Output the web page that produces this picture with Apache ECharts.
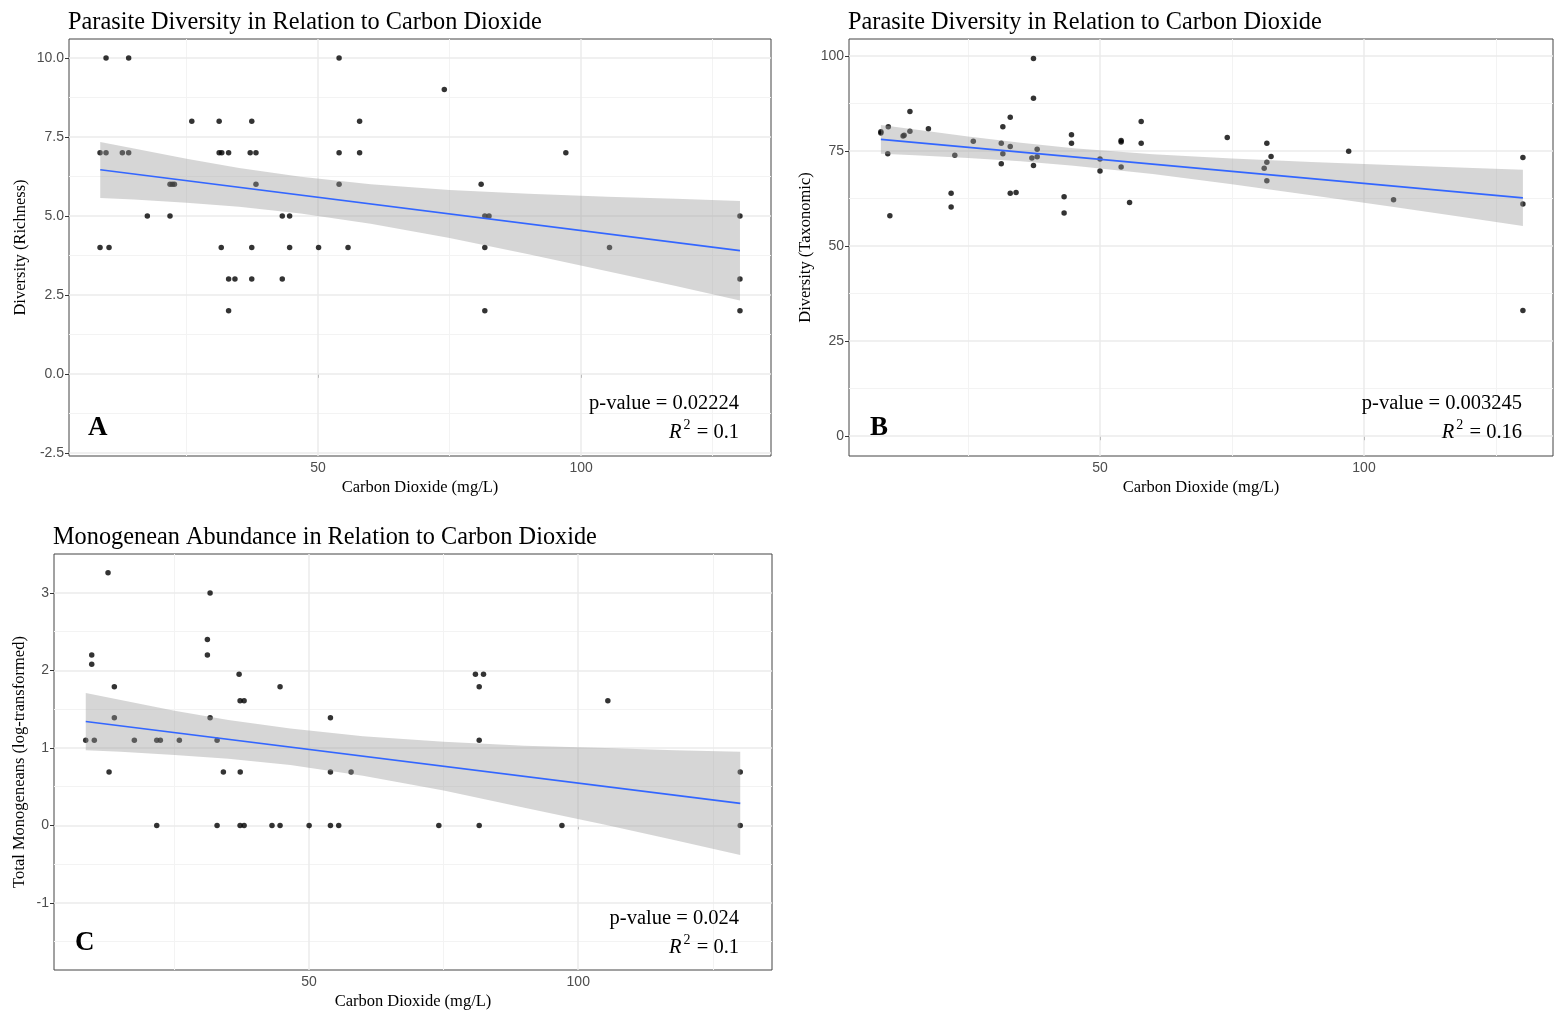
<!DOCTYPE html>
<html>
<head>
<meta charset="utf-8">
<script src="https://cdn.jsdelivr.net/npm/echarts@6/dist/echarts.min.js"></script>
<style>
html,body{margin:0;padding:0;background:#fff;}
#chart{width:1556px;height:1011px;}
</style>
</head>
<body>
<div id="chart"></div>
<script>
// ---------- Panel A : richness ----------
const aX = [8.56, 9.7, 8.56, 10.27, 9.7, 14.0, 12.8, 14.0, 17.55, 21.86, 22.3, 22.7, 21.86, 26.0, 31.2, 31.2, 31.7, 33.0, 31.6, 33.0, 34.2, 33.0, 37.4, 37.1, 38.2, 38.2, 37.4, 37.4, 43.2, 44.6, 43.2, 44.6, 50.1, 54.0, 54.0, 54.0, 55.7, 57.9, 57.9, 74.0, 81.0, 81.7, 82.5, 81.7, 81.7, 97.1, 105.4, 130.2, 130.2, 130.2];
const aY = [7, 7, 4, 4, 10, 10, 7, 7, 5, 6, 6, 6, 5, 8, 8, 7, 7, 7, 4, 3, 3, 2, 8, 7, 7, 6, 4, 3, 5, 5, 3, 4, 4, 10, 7, 6, 4, 8, 7, 9, 6, 5, 5, 4, 2, 7, 4, 5, 3, 2];
const aFitX = [8.6, 130.2];
const aFitY = [6.46, 3.90];
const aBandX = [8.6, 15, 25, 35, 46.7, 60, 75, 90, 105, 118, 130.2];
const aBandHi = [7.34, 7.13, 6.81, 6.52, 6.24, 6.00, 5.82, 5.70, 5.61, 5.54, 5.47];
const aBandLo = [5.57, 5.52, 5.42, 5.29, 5.08, 4.75, 4.30, 3.79, 3.25, 2.78, 2.32];
const aYTicks = [-2.5, 0, 2.5, 5, 7.5, 10];
const aYMinor = [-1.25, 1.25, 3.75, 6.25, 8.75];

// ---------- Panel B : taxonomic ----------
const bX = [8.5, 8.5, 9.9, 9.8, 10.2, 12.7, 12.9, 14.0, 14.0, 17.5, 21.8, 21.8, 22.5, 26.0, 31.3, 31.6, 31.6, 31.3, 33.0, 33.0, 33.0, 34.1, 37.4, 37.4, 37.1, 37.4, 38.1, 38.1, 43.2, 43.2, 44.6, 44.6, 50.0, 50.0, 54.0, 54.0, 54.0, 55.6, 57.8, 57.8, 74.1, 81.6, 82.4, 81.6, 81.1, 81.6, 97.1, 105.6, 130.1, 130.1, 130.1];
const bY = [80.1, 79.8, 81.4, 74.3, 58.0, 79.0, 79.2, 85.4, 80.2, 80.9, 63.9, 60.3, 73.9, 77.6, 77.1, 81.4, 74.3, 71.7, 83.9, 76.2, 63.9, 64.1, 99.4, 88.9, 73.2, 71.2, 75.5, 73.5, 63.0, 58.7, 79.3, 77.1, 72.9, 69.8, 77.8, 77.4, 70.8, 61.5, 82.8, 77.1, 78.6, 77.1, 73.6, 72.1, 70.5, 67.2, 75.0, 62.2, 73.3, 61.1, 33.1];
const bFitX = [8.5, 130.1];
const bFitY = [78.1, 62.7];
const bBandX = [8.5, 15, 25, 35, 45, 60, 75, 90, 105, 118, 130.1];
const bBandHi = [81.89, 80.66, 78.85, 77.19, 75.78, 74.19, 73.07, 72.16, 71.35, 70.68, 70.09];
const bBandLo = [74.31, 73.90, 73.19, 72.31, 71.18, 68.97, 66.31, 63.42, 60.43, 57.80, 55.33];
const bYTicks = [0, 25, 50, 75, 100];
const bYMinor = [12.5, 37.5, 62.5, 87.5];

// ---------- Panel C : monogenean abundance ----------
const cX = [8.49, 9.61, 9.61, 10.09, 12.64, 12.83, 13.81, 13.81, 17.53, 21.69, 22.36, 21.69, 25.89, 31.1, 31.1, 31.6, 31.6, 32.9, 32.9, 34.07, 36.99, 37.17, 37.92, 37.2, 37.17, 37.92, 43.1, 44.6, 44.6, 50.0, 53.96, 53.96, 53.96, 55.5, 57.8, 74.1, 80.9, 82.4, 81.6, 81.6, 81.6, 96.97, 105.5, 130.1, 130.1];
const cY = [1.10, 2.20, 2.08, 1.10, 3.26, 0.69, 1.79, 1.39, 1.10, 1.10, 1.10, 0, 1.10, 2.40, 2.20, 3.00, 1.39, 1.10, 0, 0.69, 1.95, 1.61, 1.61, 0.69, 0, 0, 0, 1.79, 0, 0, 1.39, 0.69, 0, 0, 0.69, 0, 1.95, 1.95, 1.79, 1.10, 0, 0, 1.61, 0.69, 0];
const cFitX = [8.5, 130.1];
const cFitY = [1.342, 0.285];
const cBandX = [8.5, 15, 25, 35, 46.5, 60, 75, 90, 105, 118, 130.1];
const cBandHi = [1.71, 1.62, 1.48, 1.36, 1.25, 1.15, 1.08, 1.03, 1.00, 0.97, 0.95];
const cBandLo = [0.97, 0.95, 0.91, 0.86, 0.78, 0.64, 0.45, 0.23, 0.01, -0.19, -0.38];
const cYTicks = [-1, 0, 1, 2, 3];
const cYMinor = [-1.5, -0.5, 0.5, 1.5, 2.5];

// ---------- shared ----------
const xTicks = [50, 100];
const xMinor = [25, 75, 125];
const titles = ['Parasite Diversity in Relation to Carbon Dioxide', 'Parasite Diversity in Relation to Carbon Dioxide', 'Monogenean Abundance in Relation to Carbon Dioxide'];
const xName = 'Carbon Dioxide (mg/L)';
const yNames = ['Diversity (Richness)', 'Diversity (Taxonomic)', 'Total Monogeneans (log-transformed)'];
const letters = ['A', 'B', 'C'];
const pValues = ['p-value = 0.02224', 'p-value = 0.003245', 'p-value = 0.024'];
const r2Values = ['0.1', '0.16', '0.1'];

const SERIF = '"Liberation Serif", "Times New Roman", serif';
const SANS = '"Liberation Sans", Arial, sans-serif';

const panels = [
  {x: aX, y: aY, fx: aFitX, fy: aFitY, bx: aBandX, hi: aBandHi, lo: aBandLo, yt: aYTicks, ym: aYMinor,
   grid: {left: 69, top: 39, width: 702, height: 417}, xr: [2.66, 136.1], yr: [-2.6, 10.6], fmt: v => v.toFixed(1), nameGap: 40,
   ann: {right: 739, y1: 404, y2: 431, lx: 88, ly: 428}},
  {x: bX, y: bY, fx: bFitX, fy: bFitY, bx: bBandX, hi: bBandHi, lo: bBandLo, yt: bYTicks, ym: bYMinor,
   grid: {left: 849, top: 39, width: 704, height: 417}, xr: [2.46, 135.8], yr: [-5.2, 104.5], fmt: v => String(v), nameGap: 35,
   ann: {right: 1522, y1: 404, y2: 431, lx: 870, ly: 428}},
  {x: cX, y: cY, fx: cFitX, fy: cFitY, bx: cBandX, hi: cBandHi, lo: cBandLo, yt: cYTicks, ym: cYMinor,
   grid: {left: 54, top: 554, width: 718, height: 416}, xr: [2.6, 136.0], yr: [-1.865, 3.503], fmt: v => String(v), nameGap: 26,
   ann: {right: 739, y1: 919, y2: 946, lx: 75, ly: 943}}
];

const grids = [], xAxes = [], yAxes = [], series = [], titleArr = [], graphics = [];

panels.forEach((p, i) => {
  grids.push(Object.assign({show: true, borderColor: '#444', borderWidth: 1, backgroundColor: '#fff', containLabel: false}, p.grid));
  xAxes.push({
    gridIndex: i, type: 'value', min: p.xr[0], max: p.xr[1],
    splitLine: {show: false}, axisLine: {show: false},
    axisTick: {show: true, customValues: xTicks, length: 4, lineStyle: {color: '#333', width: 1}},
    axisLabel: {customValues: xTicks, color: '#4d4d4d', fontSize: 14, fontFamily: SANS, margin: 5},
    name: xName, nameLocation: 'middle', nameGap: 23,
    nameTextStyle: {fontFamily: SERIF, fontSize: 16.5, color: '#000'}
  });
  yAxes.push({
    gridIndex: i, type: 'value', min: p.yr[0], max: p.yr[1],
    splitLine: {show: false}, axisLine: {show: false},
    axisTick: {show: true, customValues: p.yt, length: 4, lineStyle: {color: '#333', width: 1}},
    axisLabel: {customValues: p.yt, color: '#4d4d4d', fontSize: 14, fontFamily: SANS, margin: 5, formatter: p.fmt},
    name: yNames[i], nameLocation: 'middle', nameGap: p.nameGap,
    nameTextStyle: {fontFamily: SERIF, fontSize: 16.5, color: '#000'}
  });

  const major = {color: '#ebebeb', width: 1.5, type: 'solid'};
  const minor = {color: '#f3f3f3', width: 1, type: 'solid'};
  const gl = [];
  p.ym.forEach(v => gl.push({yAxis: v, lineStyle: minor}));
  xMinor.forEach(v => gl.push({xAxis: v, lineStyle: minor}));
  p.yt.forEach(v => gl.push({yAxis: v, lineStyle: major}));
  xTicks.forEach(v => gl.push({xAxis: v, lineStyle: major}));
  series.push({
    type: 'scatter', xAxisIndex: i, yAxisIndex: i, data: [], silent: true, z: 1,
    markLine: {silent: true, z: 1, symbol: ['none', 'none'], label: {show: false}, animation: false, data: gl}
  });

  series.push({
    type: 'scatter', xAxisIndex: i, yAxisIndex: i, z: 2, symbolSize: 5.5,
    itemStyle: {color: '#000'}, silent: true,
    data: p.x.map((v, k) => [v, p.y[k]])
  });

  series.push({
    type: 'custom', xAxisIndex: i, yAxisIndex: i, z: 3, silent: true,
    data: [[p.bx[0], p.hi[0]]],
    renderItem: (params, api) => {
      const pts = [];
      for (let k = 0; k < p.bx.length; k++) pts.push(api.coord([p.bx[k], p.hi[k]]));
      for (let k = p.bx.length - 1; k >= 0; k--) pts.push(api.coord([p.bx[k], p.lo[k]]));
      return {type: 'polygon', shape: {points: pts}, style: {fill: 'rgba(153,153,153,0.4)', stroke: null}};
    }
  });

  series.push({
    type: 'line', xAxisIndex: i, yAxisIndex: i, z: 4, silent: true, symbol: 'none',
    lineStyle: {color: '#3366FF', width: 1.6},
    data: p.fx.map((v, k) => [v, p.fy[k]])
  });

  titleArr.push({
    text: titles[i], left: p.grid.left - 1, top: p.grid.top - 28, padding: 0,
    textStyle: {fontFamily: SERIF, fontSize: 24.3, fontWeight: 'normal', color: '#000'}
  });

  graphics.push({
    type: 'text', x: p.ann.lx, y: p.ann.ly, z: 10,
    style: {text: letters[i], fontFamily: SERIF, fontSize: 27, fontWeight: 'bold', fill: '#000', textAlign: 'left', textVerticalAlign: 'middle'}
  });
  graphics.push({
    type: 'text', x: p.ann.right, y: p.ann.y1, z: 10,
    style: {text: pValues[i], fontFamily: SERIF, fontSize: 20.5, fill: '#000', textAlign: 'right', textVerticalAlign: 'middle'}
  });
  graphics.push({
    type: 'text', x: p.ann.right, y: p.ann.y2, z: 10,
    style: {
      text: '{r|R}{s|2}{t| = ' + r2Values[i] + '}',
      textAlign: 'right', textVerticalAlign: 'middle', fill: '#000',
      rich: {
        r: {fontFamily: SERIF, fontSize: 20.5, fontStyle: 'italic', fill: '#000', lineHeight: 24, verticalAlign: 'bottom'},
        s: {fontFamily: SERIF, fontSize: 14, fill: '#000', padding: [0, 1, 11, 2], lineHeight: 24, verticalAlign: 'bottom'},
        t: {fontFamily: SERIF, fontSize: 20.5, fill: '#000', lineHeight: 24, verticalAlign: 'bottom'}
      }
    }
  });
});

const chart = echarts.init(document.getElementById('chart'), null, {renderer: 'canvas'});
chart.setOption({
  backgroundColor: '#fff',
  animation: false,
  title: titleArr,
  grid: grids,
  xAxis: xAxes,
  yAxis: yAxes,
  series: series,
  graphic: graphics
});
</script>
</body>
</html>
